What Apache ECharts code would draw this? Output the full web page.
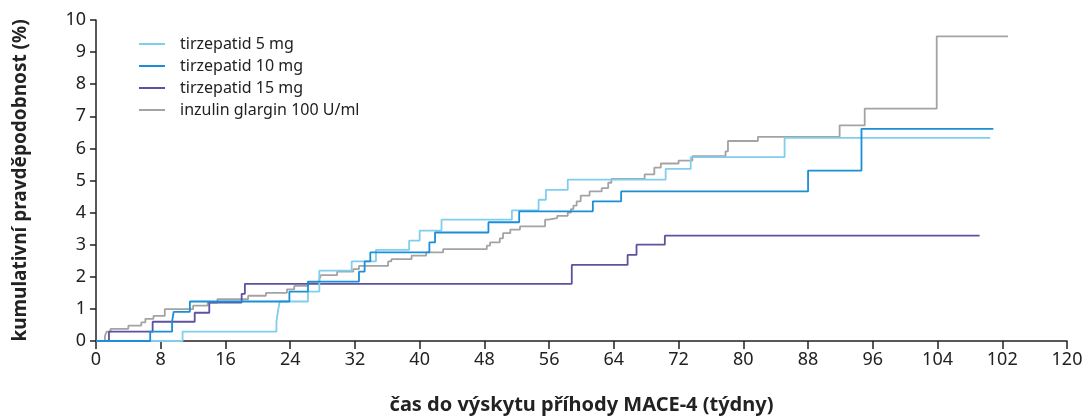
<!DOCTYPE html>
<html>
<head>
<meta charset="utf-8">
<script src="https://cdn.jsdelivr.net/npm/echarts@6/dist/echarts.min.js"></script>
<style>
  html, body { margin: 0; padding: 0; background: #fff; }
  #chart { width: 1088px; height: 416px; }
</style>
</head>
<body>
<div id="chart"></div>
<script>
// osa x: týdny, popisky převzaté z originálu (včetně "102" u 112)
var xTicks = [0, 8, 16, 24, 32, 40, 48, 56, 64, 72, 80, 88, 96, 104, 112, 120];
var xTickLabels = ['0', '8', '16', '24', '32', '40', '48', '56', '64', '72', '80', '88', '96', '104', '102', '120'];

var seriesNames = ['tirzepatid 5 mg', 'tirzepatid 10 mg', 'tirzepatid 15 mg', 'inzulin glargin 100 U/ml'];

// tirzepatid 5 mg - [týden, %]
var tirz5 = [[0,0],[10.7,0.29],[22.3,0.6],[22.5,0.95],[22.7,1.23],[26.2,1.54],[27.6,2.19],[31.6,2.48],
  [34.6,2.84],[38.7,3.13],[40.0,3.44],[42.7,3.78],[51.4,4.07],[54.7,4.4],[55.6,4.71],[58.3,5.03],
  [70.4,5.36],[73.5,5.73],[85.1,6.33],[110.5,6.33]];

// tirzepatid 10 mg
var tirz10 = [[0,0],[6.7,0.29],[9.4,0.6],[9.6,0.91],[11.6,1.23],[23.9,1.54],[26.2,1.85],[32.5,2.16],
  [33.2,2.48],[33.9,2.76],[41.2,3.07],[41.9,3.38],[48.5,3.7],[52.3,4.04],[61.4,4.35],[64.9,4.66],
  [88.0,5.31],[94.6,6.61],[110.9,6.61]];

// tirzepatid 15 mg
var tirz15 = [[0,0],[1.6,0.29],[7.0,0.6],[12.2,0.88],[14.0,1.2],[18.0,1.47],[18.4,1.78],[58.8,2.37],
  [65.7,2.68],[66.8,3.0],[70.3,3.28],[109.2,3.28]];

// inzulin glargin
var glargin = [[0,0],[1.1,0.15],[1.3,0.29],[1.8,0.38],[4.0,0.48],[5.6,0.58],[6.1,0.69],[7.1,0.78],
  [8.5,0.99],[12.0,1.1],[13.8,1.2],[15.0,1.3],[18.8,1.41],[21.0,1.5],[23.6,1.61],[24.5,1.72],
  [26.2,1.84],[27.6,1.93],[27.8,2.05],[29.8,2.16],[31.8,2.24],[32.5,2.34],[36.1,2.48],[36.5,2.55],
  [39.0,2.66],[40.8,2.76],[42.9,2.86],[48.3,2.97],[48.7,3.07],[49.9,3.2],[50.3,3.36],[51.2,3.47],
  [52.4,3.57],[55.5,3.78],[55.9,3.83],[57.0,3.9],[58.3,4.0],[58.7,4.11],[59.0,4.22],[59.4,4.35],
  [59.9,4.53],[61.0,4.66],[62.5,4.76],[63.3,4.93],[63.7,5.05],[67.8,5.19],[69.0,5.4],[69.8,5.53],
  [72.0,5.62],[73.7,5.76],[77.8,5.91],[78.1,6.23],[81.8,6.36],[91.9,6.72],[95.0,7.24],[103.9,9.49],
  [112.7,9.49]];

var colors = ['#80cdee', '#1a8fd6', '#5d529f', '#a3a3a3'];

var chart = echarts.init(document.getElementById('chart'));
var font = 'Noto Sans';

function stepLine(name, data, color) {
  return {
    name: name,
    type: 'line',
    step: 'end',
    data: data,
    symbol: 'none',
    lineStyle: { color: color, width: 1.8 },
    itemStyle: { color: color },
    animation: false
  };
}

var option = {
  textStyle: { fontFamily: font },
  grid: { left: 96, right: 21, top: 20, bottom: 75, outerBoundsMode: 'none', containLabel: false },
  legend: {
    orient: 'vertical',
    left: 134,
    top: 31,
    icon: 'rect',
    itemWidth: 26,
    itemHeight: 2,
    itemGap: 6,
    textStyle: { fontFamily: font, fontSize: 16, color: '#222', lineHeight: 16, padding: [0, 0, 0, 10] },
    data: seriesNames
  },
  xAxis: {
    type: 'value',
    min: 0,
    max: 120,
    interval: 8,
    name: 'čas do výskytu příhody MACE-4 (týdny)',
    nameLocation: 'middle',
    nameGap: 54,
    nameTextStyle: { fontFamily: font, fontSize: 20, fontWeight: 'bold', color: '#222' },
    axisLine: { lineStyle: { color: '#222', width: 1.5 } },
    axisTick: { length: 8, lineStyle: { color: '#222', width: 1.5 } },
    axisLabel: {
      fontSize: 18, color: '#222', margin: 10,
      formatter: function (v) { var i = xTicks.indexOf(v); return i >= 0 ? xTickLabels[i] : ''; }
    },
    splitLine: { show: false }
  },
  yAxis: {
    type: 'value',
    min: 0,
    max: 10,
    interval: 1,
    name: 'kumulativní pravděpodobnost (%)',
    nameLocation: 'middle',
    nameGap: 66,
    nameTextStyle: { fontFamily: font, fontSize: 19, fontWeight: 'bold', color: '#222' },
    axisLine: { show: true, lineStyle: { color: '#222', width: 1.5 } },
    axisTick: { show: true, length: 6, lineStyle: { color: '#222', width: 1.5 } },
    axisLabel: { fontSize: 18, color: '#222', margin: 10 },
    splitLine: { show: false }
  },
  series: [
    stepLine(seriesNames[3], glargin, colors[3]),
    stepLine(seriesNames[2], tirz15, colors[2]),
    stepLine(seriesNames[0], tirz5, colors[0]),
    stepLine(seriesNames[1], tirz10, colors[1])
  ]
};

chart.setOption(option);
window.addEventListener('resize', function () { chart.resize(); });
</script>
</body>
</html>
